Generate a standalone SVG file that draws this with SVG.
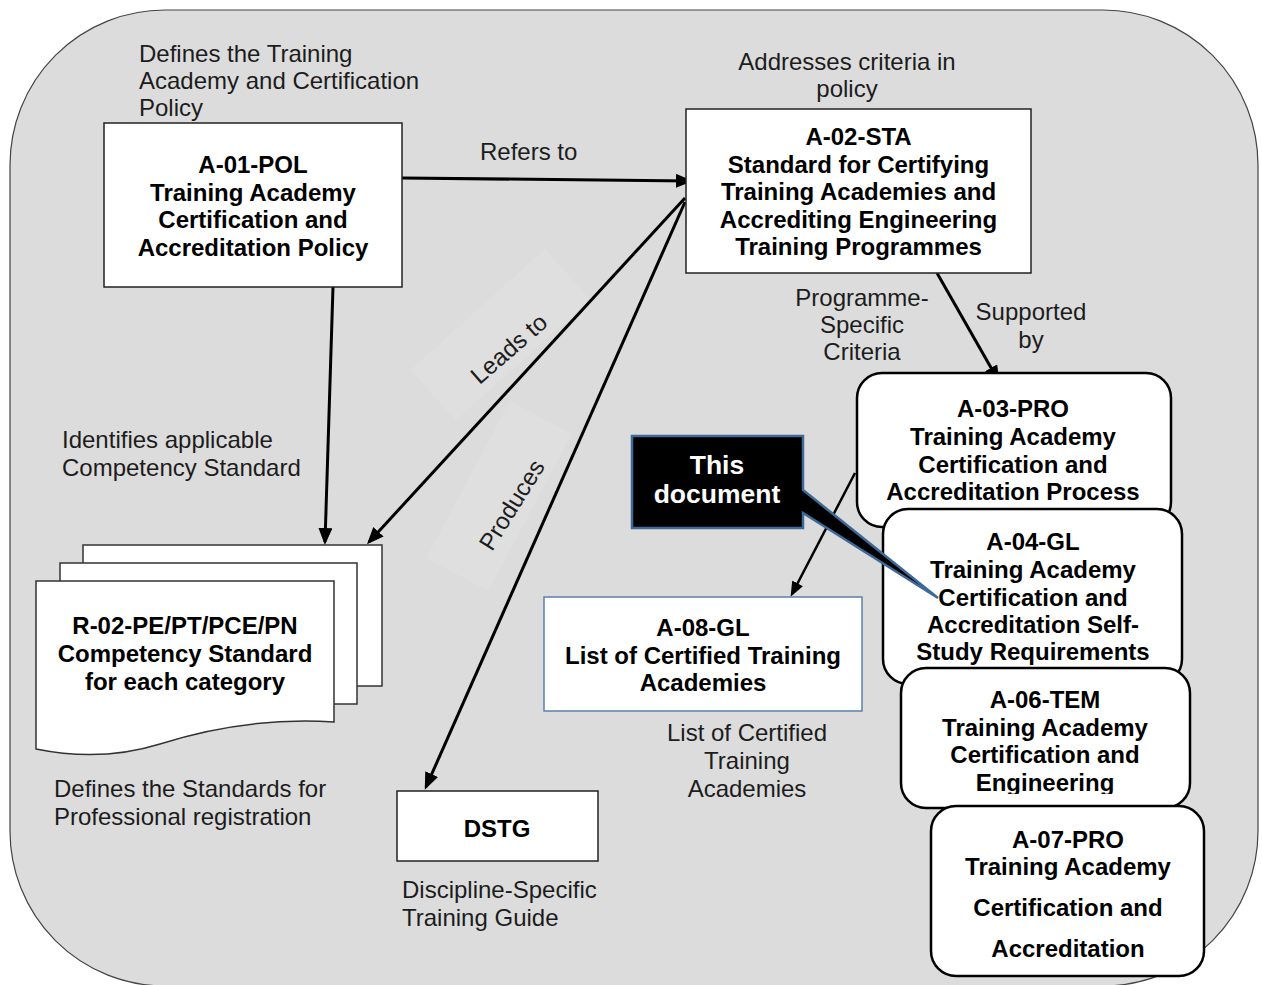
<svg xmlns="http://www.w3.org/2000/svg" width="1262" height="985" viewBox="0 0 1262 985">
<style>
text{font-family:"Liberation Sans",Arial,sans-serif;font-size:24px;fill:#1c1c1c}
.b{font-weight:bold;fill:#000;text-anchor:middle}
.c{text-anchor:middle}
.box{fill:#fff;stroke:#222;stroke-width:1.5}
.rbox{fill:#fff;stroke:#000;stroke-width:2.5}
.page{fill:#fff;stroke:#333;stroke-width:1.5}
.conn{stroke:#000;stroke-width:3;fill:none;marker-end:url(#ah)}
.thin{stroke:#000;stroke-width:2.5;fill:none;marker-end:url(#ahs)}
</style>
<defs>
<marker id="ah" markerUnits="userSpaceOnUse" markerWidth="18" markerHeight="16" refX="14" refY="7" orient="auto"><path d="M0,0 L17,7 L0,14 z" fill="#000"/></marker>
<marker id="ahs" markerUnits="userSpaceOnUse" markerWidth="16" markerHeight="14" refX="12" refY="6" orient="auto"><path d="M0,0 L15,6 L0,12 z" fill="#000"/></marker>
<clipPath id="clip06"><rect x="901" y="668" width="289" height="126"/></clipPath>
</defs>

<rect id="background" x="10" y="10" width="1248" height="976" rx="155" ry="155" fill="#dcdcdc" stroke="#444" stroke-width="1.2"/>

<g id="label-boxes">
<rect x="-90" y="-34" width="181" height="68" fill="#dfdfdf" transform="translate(500,335) rotate(-42)"/>
<rect x="-89" y="-35" width="178" height="70" fill="#dfdfdf" transform="translate(499,496) rotate(-62)"/>
</g>

<g id="connectors">
<line class="conn" x1="402" y1="178" x2="690" y2="181"/>
<line class="conn" x1="333" y1="287" x2="325" y2="542"/>
<line class="conn" x1="685" y1="198" x2="369" y2="542"/>
<line class="conn" x1="685" y1="202" x2="426" y2="787"/>
<line class="conn" x1="937" y1="273" x2="998" y2="380"/>
<line class="thin" x1="855" y1="473" x2="792" y2="594"/>
<text x="480" y="160">Refers to</text>
<text class="c" transform="translate(509,349) rotate(-41)" dy="8">Leads to</text>
<text class="c" transform="translate(512,505) rotate(-58)" dy="8">Produces</text>
<text class="c" x="1031" y="320">Supported</text>
<text class="c" x="1031" y="348">by</text>
<text class="c" x="862" y="306">Programme-</text>
<text class="c" x="862" y="333">Specific</text>
<text class="c" x="862" y="360">Criteria</text>
</g>

<g id="a01-pol">
<text x="139" y="62">Defines the Training</text>
<text x="139" y="89">Academy and Certification</text>
<text x="139" y="116">Policy</text>
<rect class="box" x="104" y="123" width="298" height="164"/>
<text class="b" x="253" y="173">A-01-POL</text>
<text class="b" x="253" y="200.5">Training Academy</text>
<text class="b" x="253" y="228">Certification and</text>
<text class="b" x="253" y="255.5">Accreditation Policy</text>
</g>

<g id="a02-sta">
<text class="c" x="847" y="70">Addresses criteria in</text>
<text class="c" x="847" y="97">policy</text>
<rect class="box" x="686" y="109" width="345" height="164"/>
<text class="b" x="858.5" y="145">A-02-STA</text>
<text class="b" x="858.5" y="172.5">Standard for Certifying</text>
<text class="b" x="858.5" y="200">Training Academies and</text>
<text class="b" x="858.5" y="227.5">Accrediting Engineering</text>
<text class="b" x="858.5" y="255">Training Programmes</text>
</g>

<g id="r02">
<text x="62" y="448">Identifies applicable</text>
<text x="62" y="476">Competency Standard</text>
<rect class="page" x="83" y="545" width="299" height="141"/>
<rect class="page" x="60" y="563" width="297" height="141"/>
<path class="page" d="M36,581 H334 V722 C270,718 210,728 160,744 C115,758 75,757 36,749 Z"/>
<text class="b" x="185" y="634">R-02-PE/PT/PCE/PN</text>
<text class="b" x="185" y="662">Competency Standard</text>
<text class="b" x="185" y="690">for each category</text>
<text x="54" y="797">Defines the Standards for</text>
<text x="54" y="825">Professional registration</text>
</g>

<g id="dstg">
<rect class="box" x="397" y="791" width="201" height="70"/>
<text class="b" x="497" y="837">DSTG</text>
<text x="402" y="898">Discipline-Specific</text>
<text x="402" y="926">Training Guide</text>
</g>

<g id="a08-gl">
<rect x="544" y="597" width="318" height="114" fill="#fff" stroke="#5b7fab" stroke-width="1.5"/>
<text class="b" x="703" y="636">A-08-GL</text>
<text class="b" x="703" y="664">List of Certified Training</text>
<text class="b" x="703" y="691">Academies</text>
<text class="c" x="747" y="741">List of Certified</text>
<text class="c" x="747" y="769">Training</text>
<text class="c" x="747" y="797">Academies</text>
</g>

<g id="a03-pro">
<rect class="rbox" x="857" y="373" width="314" height="154" rx="25" ry="25"/>
<text class="b" x="1013" y="417">A-03-PRO</text>
<text class="b" x="1013" y="445">Training Academy</text>
<text class="b" x="1013" y="473">Certification and</text>
<text class="b" x="1013" y="500">Accreditation Process</text>
</g>

<g id="a04-gl">
<rect class="rbox" x="883" y="509" width="299" height="175" rx="25" ry="25"/>
<text class="b" x="1033" y="550">A-04-GL</text>
<text class="b" x="1033" y="578">Training Academy</text>
<text class="b" x="1033" y="606">Certification and</text>
<text class="b" x="1033" y="633">Accreditation Self-</text>
<text class="b" x="1033" y="660">Study Requirements</text>
</g>

<g id="callout">
<path d="M632,436 H803 V490 L938,598 L803,513 V528 H632 Z" fill="#000" stroke="#3d6a98" stroke-width="2.5" stroke-linejoin="miter"/>
<text class="b" x="717" y="474" style="fill:#fff;font-size:26.5px">This</text>
<text class="b" x="717" y="503" style="fill:#fff;font-size:26.5px">document</text>
</g>

<g id="a06-tem">
<rect class="rbox" x="901" y="668" width="289" height="140" rx="25" ry="25"/>
<g clip-path="url(#clip06)">
<text class="b" x="1045" y="708">A-06-TEM</text>
<text class="b" x="1045" y="736">Training Academy</text>
<text class="b" x="1045" y="763">Certification and</text>
<text class="b" x="1045" y="791">Engineering</text>
</g>
</g>

<g id="a07-pro">
<rect class="rbox" x="931" y="806" width="273" height="170" rx="25" ry="25"/>
<text class="b" x="1068" y="848">A-07-PRO</text>
<text class="b" x="1068" y="875">Training Academy</text>
<text class="b" x="1068" y="916">Certification and</text>
<text class="b" x="1068" y="957">Accreditation</text>
</g>
</svg>
